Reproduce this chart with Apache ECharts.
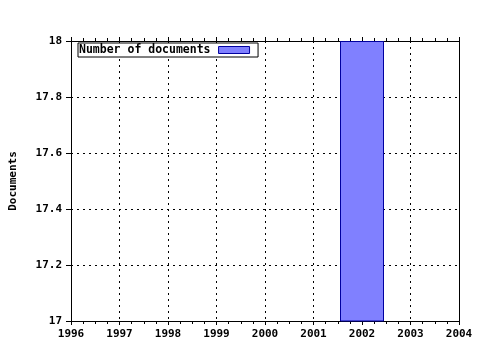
<!DOCTYPE html>
<html>
<head>
<meta charset="utf-8">
<script src="https://cdn.jsdelivr.net/npm/echarts@6/dist/echarts.min.js"></script>
<style>html,body{margin:0;padding:0;background:#fff}#c{width:480px;height:350px}</style>
</head>
<body>
<div id="c"></div>
<script>
var years = [2002];
var documents = [18];
var seriesName = 'Number of documents';
var yTicks = {min: 17, max: 18, interval: 0.2};
var xTicks = {min: 1996, max: 2004, interval: 1};

var font = 'DejaVu Sans Mono';
var chart = echarts.init(document.getElementById('c'), null, {renderer: 'canvas'});
var data = years.map(function (y, i) { return [y, documents[i]]; });
var axisLine = {show: true, onZero: false, lineStyle: {color: '#000', width: 1}};
var label = {color: '#000', fontFamily: font, fontWeight: 'bold', fontSize: 11};
chart.setOption({
  animation: false,
  backgroundColor: '#fff',
  grid: {left: 71, top: 41, right: 21, bottom: 29, containLabel: false},
  legend: {
    show: true, left: 78, top: 43, orient: 'horizontal', align: 'right',
    padding: [1, 8, 1, 1], itemGap: 8, itemWidth: 31, itemHeight: 7,
    borderColor: '#000', borderWidth: 1, backgroundColor: '#fff', borderRadius: 0,
    itemStyle: {borderWidth: 1, borderColor: '#0000a0'},
    textStyle: {color: '#000', fontFamily: font, fontWeight: 'bold', fontSize: 11.5, padding: [0, 3, 0, 0]},
    data: [{name: seriesName, icon: 'rect'}]
  },
  xAxis: [{
    type: 'value', min: xTicks.min, max: xTicks.max, interval: xTicks.interval,
    position: 'bottom',
    axisLine: axisLine,
    axisTick: {show: true, length: 4, lineStyle: {color: '#000'}},
    minorTick: {show: true, splitNumber: 4, length: 3, lineStyle: {color: '#000'}},
    axisLabel: Object.assign({margin: 8, formatter: function (v) { return String(v); }}, label),
    splitLine: {show: true, lineStyle: {color: '#000', type: [2, 4], width: 1}}
  }, {
    type: 'value', min: xTicks.min, max: xTicks.max, interval: xTicks.interval,
    position: 'top',
    axisLine: axisLine,
    axisTick: {show: true, length: 4, lineStyle: {color: '#000'}},
    minorTick: {show: true, splitNumber: 4, length: 3, lineStyle: {color: '#000'}},
    axisLabel: {show: false},
    splitLine: {show: false}
  }],
  yAxis: [{
    type: 'value', min: yTicks.min, max: yTicks.max, interval: yTicks.interval,
    name: 'Documents', nameLocation: 'middle', nameGap: 52, nameRotate: 90,
    nameTextStyle: {color: '#000', fontFamily: font, fontWeight: 'bold', fontSize: 11},
    axisLine: axisLine,
    axisTick: {show: true, length: 5, lineStyle: {color: '#000'}},
    axisLabel: Object.assign({margin: 9, formatter: function (v) { return String(Math.round(v * 10) / 10); }}, label),
    splitLine: {show: true, lineStyle: {color: '#000', type: [2, 4], width: 1}}
  }, {
    type: 'value', min: yTicks.min, max: yTicks.max, interval: yTicks.interval,
    position: 'right',
    axisLine: axisLine,
    axisTick: {show: false},
    axisLabel: {show: false},
    splitLine: {show: false}
  }],
  series: [{
    name: seriesName, type: 'bar', data: data, barWidth: 44, clip: true,
    itemStyle: {color: '#8080ff', borderColor: '#0000a0', borderWidth: 1}
  }]
});
</script>
</body>
</html>
